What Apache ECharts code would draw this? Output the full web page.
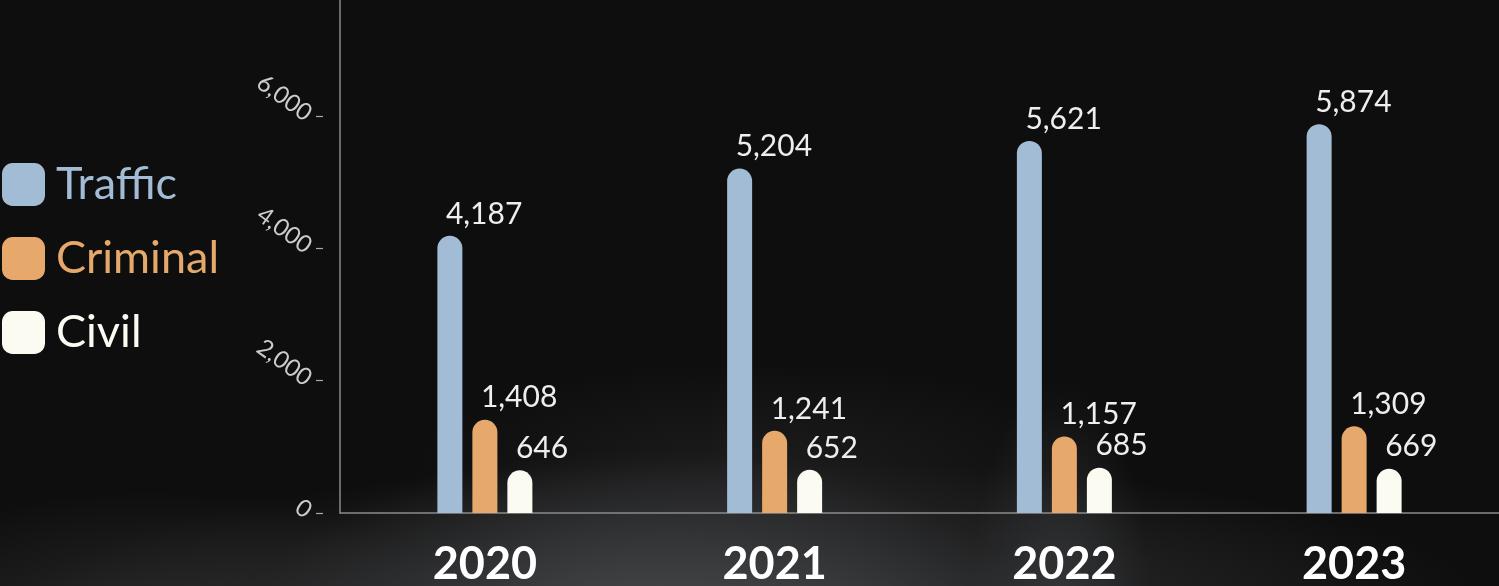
<!DOCTYPE html>
<html><head><meta charset="utf-8">
<script src="https://cdn.jsdelivr.net/npm/echarts@6/dist/echarts.min.js"></script>
<style>
html,body{margin:0;padding:0;width:1499px;height:586px;overflow:hidden;background:#0e0e0e;}
#bg{position:absolute;left:0;top:0;width:1499px;height:586px;background:
 radial-gradient(ellipse 380px 160px at 640px 610px, rgba(78,80,83,0.65), rgba(78,80,83,0) 100%),
 radial-gradient(ellipse 720px 140px at 760px 600px, rgba(58,59,61,0.85), rgba(58,59,61,0) 100%),
 radial-gradient(ellipse 330px 150px at 150px 640px, rgba(55,55,57,0.7), rgba(55,55,57,0) 100%),
 radial-gradient(ellipse 90px 220px at 1060px 600px, rgba(75,77,80,0.5), rgba(75,77,80,0) 100%),
 radial-gradient(ellipse 350px 110px at 760px 470px, rgba(38,38,40,0.6), rgba(38,38,40,0) 100%),
 #0e0e0e;}
#chart{position:absolute;left:0;top:0;width:1499px;height:586px;}
</style></head>
<body><div id="bg"></div><div id="chart"></div>
<script>
const categories = ['2020', '2021', '2022', '2023'];
const traffic = [4187, 5204, 5621, 5874];
const criminal = [1408, 1241, 1157, 1309];
const civil = [646, 652, 685, 669];
const seriesNames = ['Traffic', 'Criminal', 'Civil'];
const colors = ['#a3bcd6', '#e6a96b', '#fbfbf2'];

const fmt = v => Number(v).toLocaleString('en-US');
const chart = echarts.init(document.getElementById('chart'), null, {renderer: 'canvas'});

function barSeries(name, data, color) {
  return {
    name, type: 'bar', data, yAxisIndex: 0,
    barWidth: 25, barGap: '40%',
    itemStyle: {color, borderRadius: [12.5, 12.5, 0, 0]},
    label: {
      show: true, position: 'top', align: 'left', offset: [-4, 0], distance: 7,
      color: '#eeeeee', fontSize: 30, fontFamily: 'Lato', formatter: p => fmt(p.value)
    }
  };
}

chart.setOption({
  backgroundColor: 'transparent',
  animation: false,
  color: colors,
  grid: {left: 340, right: 0, top: 0, bottom: 73, containLabel: false, outerBoundsMode: 'none'},
  legend: {
    orient: 'vertical', left: 2, top: 162, padding: 0,
    icon: 'roundRect', itemWidth: 43, itemHeight: 43, itemGap: 29,
    data: seriesNames.map((n, i) => ({name: n, textStyle: {color: colors[i]}})),
    textStyle: {fontSize: 45, fontFamily: 'Lato', padding: [0, 0, 0, 6]}
  },
  xAxis: {
    type: 'category', data: categories,
    axisLine: {lineStyle: {color: '#8a8a8a', width: 1.5}},
    axisTick: {alignWithLabel: true, length: 7, lineStyle: {color: '#8a8a8a'}},
    axisLabel: {color: '#ffffff', fontSize: 45, fontWeight: 'bold', fontFamily: 'Lato', margin: 29}
  },
  yAxis: [
    {type: 'value', min: 0, max: 7750, position: 'left',
     axisLine: {show: true, lineStyle: {color: '#8a8a8a', width: 1.5}},
     axisTick: {show: false}, axisLabel: {show: false}, splitLine: {show: false}},
    {type: 'value', min: 0, max: 7750, interval: 2000, position: 'left', offset: 17,
     axisLine: {show: false},
     axisTick: {show: true, length: 7, lineStyle: {color: '#aaaaaa', width: 1.2}},
     axisLabel: {rotate: -36, color: '#cccccc', fontSize: 24, fontFamily: 'Lato', margin: 14,
                 showMaxLabel: false, formatter: v => fmt(v)},
     splitLine: {show: false}}
  ],
  series: [
    barSeries(seriesNames[0], traffic, colors[0]),
    barSeries(seriesNames[1], criminal, colors[1]),
    barSeries(seriesNames[2], civil, colors[2])
  ]
});
</script></body></html>
